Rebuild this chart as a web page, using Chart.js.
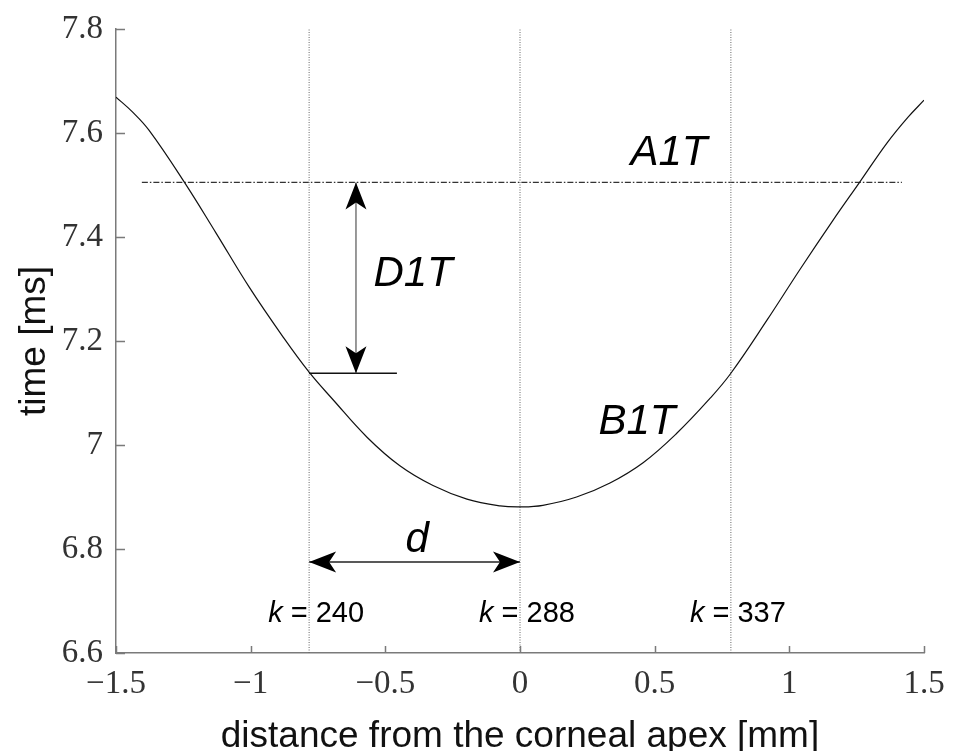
<!DOCTYPE html>
<html>
<head>
<meta charset="utf-8">
<script src="https://cdn.jsdelivr.net/npm/chart.js@4.4.1/dist/chart.umd.min.js"></script>
<style>
  html, body { margin: 0; padding: 0; background: #fff; }
  #wrap { width: 953px; height: 751px; }
</style>
</head>
<body>
<div id="wrap"><canvas id="chart" width="953" height="751"></canvas></div>
<script>
// B1T profile: arrival time along the cornea
const distanceMm = [-1.5, -1.44, -1.377, -1.247, -1.129, -1.006, -0.88, -0.783, -0.694, -0.568, -0.446, -0.323, -0.197, -0.074, 0,
                    0.085, 0.21, 0.334, 0.457, 0.583, 0.706, 0.783, 0.917, 1.04, 1.162, 1.262, 1.363, 1.44, 1.5];
const timeMs = [7.669, 7.641, 7.605, 7.506, 7.408, 7.304, 7.208, 7.140, 7.087, 7.015, 6.960, 6.922, 6.896, 6.883, 6.881,
                6.884, 6.900, 6.927, 6.966, 7.023, 7.090, 7.138, 7.240, 7.338, 7.432, 7.506, 7.581, 7.630, 7.663];

// frame markers k and their distances
const markerK = [240, 288, 337];
const markerX = [-0.783, 0, 0.783];

// A1T level and its extent
const a1tTime = 7.505;
const a1tSpan = [-1.404, 1.418];

// D1T arrow (x, from A1T down to the curve at k = 240) and its base line
const d1tX = -0.609;
const d1tSpan = [7.138, 7.505];
const d1tBase = [-0.783, -0.457];

// d arrow height
const dArrowY = 6.775;

const AXIS = '#7a7a7a';

const straightLine = (points, dash, color, width) => ({
    data: points,
    borderColor: color,
    borderWidth: width,
    borderDash: dash,
    pointRadius: 0,
    tension: 0
});

const datasets = [
    {
        data: distanceMm.map((d, i) => ({ x: d, y: timeMs[i] })),
        borderColor: '#111',
        borderWidth: 1.2,
        pointRadius: 0,
        tension: 0.4
    },
    ...markerX.map(mx => straightLine([{ x: mx, y: 6.6 }, { x: mx, y: 7.8 }], [1, 1.5], '#666', 1)),
    straightLine([{ x: a1tSpan[0], y: a1tTime }, { x: a1tSpan[1], y: a1tTime }], [6, 2, 1.5, 2], '#333', 1.4),
    straightLine([{ x: d1tX, y: d1tSpan[0] }, { x: d1tX, y: d1tSpan[1] }], [], '#555', 1.2),
    straightLine([{ x: d1tBase[0], y: d1tSpan[0] }, { x: d1tBase[1], y: d1tSpan[0] }], [], '#111', 1.4),
    straightLine([{ x: markerX[0], y: dArrowY }, { x: markerX[1], y: dArrowY }], [], '#222', 1.3)
];

function arrowHead(ctx, tx, ty, angle) {
    // stealth style head pointing along angle
    const len = 27, half = 10.5, notch = 7;
    ctx.save();
    ctx.translate(tx, ty);
    ctx.rotate(angle);
    ctx.beginPath();
    ctx.moveTo(0, 0);
    ctx.lineTo(-len, -half);
    ctx.lineTo(-len + notch, 0);
    ctx.lineTo(-len, half);
    ctx.closePath();
    ctx.fillStyle = '#000';
    ctx.fill();
    ctx.restore();
}

const annotations = {
    id: 'annotations',
    afterDraw(chart) {
        const { ctx, scales: { x, y } } = chart;

        // inward tick marks
        ctx.save();
        ctx.strokeStyle = AXIS;
        ctx.lineWidth = 1.5;
        ctx.beginPath();
        y.ticks.forEach(t => {
            const py = Math.round(y.getPixelForValue(t.value)) + 0.5;
            ctx.moveTo(x.left, py);
            ctx.lineTo(x.left + 9, py);
        });
        x.ticks.forEach(t => {
            const px = Math.round(x.getPixelForValue(t.value)) + 0.5;
            ctx.moveTo(px, y.bottom);
            ctx.lineTo(px, y.bottom - 7);
        });
        ctx.stroke();
        ctx.restore();

        // arrow heads
        const ax = x.getPixelForValue(d1tX);
        arrowHead(ctx, ax, y.getPixelForValue(d1tSpan[1]), -Math.PI / 2);
        arrowHead(ctx, ax, y.getPixelForValue(d1tSpan[0]), Math.PI / 2);
        const ay = y.getPixelForValue(dArrowY);
        arrowHead(ctx, x.getPixelForValue(markerX[0]), ay, Math.PI);
        arrowHead(ctx, x.getPixelForValue(markerX[1]), ay, 0);

        // italic labels
        ctx.save();
        ctx.fillStyle = '#000';
        ctx.textAlign = 'center';
        ctx.textBaseline = 'middle';
        ctx.font = 'italic 42px "Liberation Sans", Arial, sans-serif';
        ctx.fillText('A1T', x.getPixelForValue(0.553), y.getPixelForValue(7.56));
        ctx.fillText('D1T', x.getPixelForValue(-0.397), y.getPixelForValue(7.329));
        ctx.fillText('B1T', x.getPixelForValue(0.434), y.getPixelForValue(7.044));
        ctx.fillText('d', x.getPixelForValue(-0.382), y.getPixelForValue(6.817));

        // k = ... labels
        ctx.textAlign = 'left';
        const ky = y.getPixelForValue(6.675);
        const italic = 'italic 29px "Liberation Sans", Arial, sans-serif';
        const upright = '29px "Liberation Sans", Arial, sans-serif';
        markerK.forEach((k, i) => {
            const rest = ' = ' + k;
            ctx.font = italic;
            const wk = ctx.measureText('k').width;
            ctx.font = upright;
            const wr = ctx.measureText(rest).width;
            const left = x.getPixelForValue(markerX[i]) + 7 - (wk + wr) / 2;
            ctx.font = italic;
            ctx.fillText('k', left, ky);
            ctx.font = upright;
            ctx.fillText(rest, left + wk, ky);
        });
        ctx.restore();
    }
};

const tickFont = { family: '"Liberation Serif", "Times New Roman", serif', size: 33 };
const titleFont = { family: '"Liberation Sans", Arial, sans-serif', size: 37 };

new Chart(document.getElementById('chart'), {
    type: 'line',
    data: { datasets },
    options: {
        responsive: false,
        animation: false,
        layout: { padding: { left: 0, top: 29, right: 29, bottom: 0 } },
        plugins: {
            legend: { display: false },
            tooltip: { enabled: false }
        },
        scales: {
            x: {
                type: 'linear',
                min: -1.5,
                max: 1.5,
                ticks: {
                    stepSize: 0.5,
                    padding: 12,
                    maxRotation: 0,
                    autoSkip: false,
                    color: '#333',
                    font: tickFont,
                    callback: v => String(v).replace('-', '\u2212')
                },
                grid: { display: false, drawTicks: false },
                border: { display: true, color: AXIS, width: 1.5 },
                title: {
                    display: true,
                    text: 'distance from the corneal apex [mm]',
                    color: '#111',
                    font: titleFont,
                    padding: { top: 0, bottom: -8 }
                },
                afterFit: s => {
                    s.height = 98;
                    s.paddingLeft = 0;
                    s.paddingRight = 0;
                }
            },
            y: {
                type: 'linear',
                min: 6.6,
                max: 7.8,
                ticks: {
                    stepSize: 0.2,
                    padding: 13,
                    color: '#333',
                    font: tickFont,
                    callback: v => String(Number(v.toFixed(1)))
                },
                grid: { display: false, drawTicks: false },
                border: { display: true, color: AXIS, width: 1.5 },
                title: {
                    display: true,
                    text: 'time [ms]',
                    color: '#111',
                    font: titleFont,
                    padding: { top: 13, bottom: 0 }
                },
                afterFit: s => {
                    s.width = 116;
                    s.paddingTop = 0;
                    s.paddingBottom = 0;
                }
            }
        }
    },
    plugins: [annotations]
});
</script>
</body>
</html>
